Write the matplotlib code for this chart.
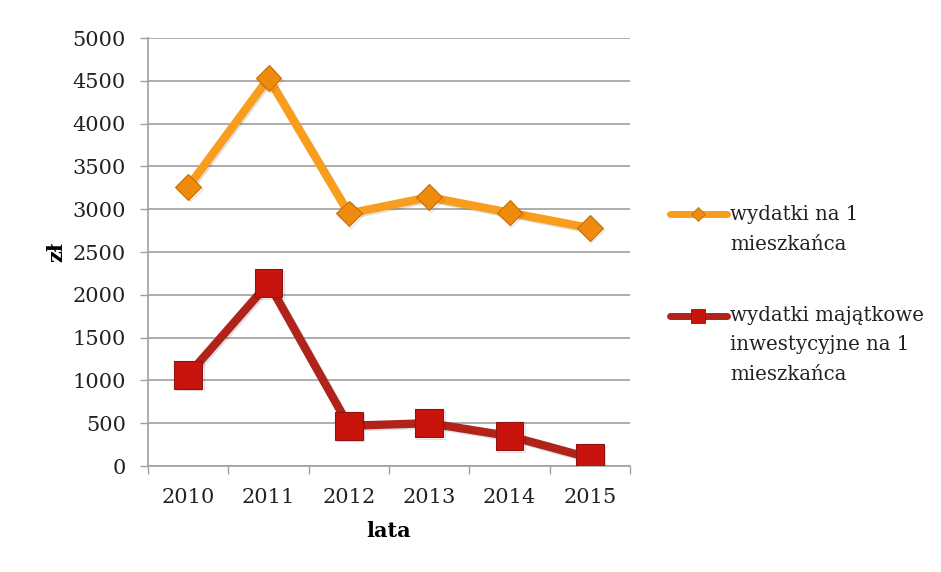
import matplotlib
matplotlib.use("Agg")
import matplotlib.pyplot as plt
import matplotlib.patheffects as pe
from matplotlib.lines import Line2D
import numpy as np

years = ["2010", "2011", "2012", "2013", "2014", "2015"]
wydatki = [3260, 4530, 2950, 3140, 2960, 2780]
wydatki_majatkowe = [1065, 2135, 470, 500, 350, 95]
y_ticks = [0, 500, 1000, 1500, 2000, 2500, 3000, 3500, 4000, 4500, 5000]

label_1 = "wydatki na 1\nmieszkańca"
label_2 = "wydatki majątkowe\ninwestycyjne na 1\nmieszkańca"

plt.rcParams['font.family'] = ['DejaVu Serif']

W, H = 941, 572
fig = plt.figure(figsize=(W / 100, H / 100), dpi=100)
ax = fig.add_axes([148 / W, 1 - 466 / H, (630 - 148) / W, (466 - 38) / H])

x = np.arange(len(years))
shadow = [pe.SimpleLineShadow(offset=(1.2, -1.2), shadow_color='#000000', alpha=0.12), pe.Normal()]

orange_line, orange_face, orange_edge = '#F99D1C', '#EE8A0C', '#C86F08'
red_line, red_face, red_edge = '#B0231B', '#C8140C', '#8E1410'

l1, = ax.plot(x, wydatki, color=orange_line, lw=6, marker='D', markersize=13,
              markerfacecolor=orange_face, markeredgecolor=orange_edge, markeredgewidth=0.8,
              solid_capstyle='round', zorder=3)
l1.set_path_effects(shadow)
l2, = ax.plot(x, wydatki_majatkowe, color=red_line, lw=6, marker='s', markersize=20,
              markerfacecolor=red_face, markeredgecolor=red_edge, markeredgewidth=0.8,
              solid_capstyle='round', zorder=3)
l2.set_path_effects(shadow)

ax.set_xlim(-0.5, len(years) - 0.5)
ax.set_ylim(0, 5000)
ax.set_yticks(y_ticks)
ax.set_yticklabels([str(v) for v in y_ticks], fontsize=15, color='#222222')
ax.set_xticks(x)
ax.set_xticklabels(years, fontsize=15, color='#222222')
ax.set_xticks(np.arange(len(years) + 1) - 0.5, minor=True)
ax.tick_params(axis='x', which='major', length=0, pad=16)
ax.tick_params(axis='x', which='minor', length=6, color='#a0a0a0', width=1)
ax.tick_params(axis='y', length=6, color='#a0a0a0', width=1, pad=10)

ax.grid(axis='y', color='#a0a0a0', lw=1.2)
ax.set_axisbelow(True)
for s in ['top', 'right']:
    ax.spines[s].set_visible(False)
for s in ['left', 'bottom']:
    ax.spines[s].set_color('#a0a0a0')
    ax.spines[s].set_linewidth(1.2)

ax.set_xlabel("lata", fontsize=15, fontweight='bold', labelpad=10)
ax.set_ylabel("zł", fontsize=15, fontweight='bold', labelpad=4)

# legend entries: handle aligned with first text line
def legend_entry(y_px, label, lc, fc, ec, mk, ms, line_px=29):
    yf = 1 - y_px / H
    fig.add_artist(Line2D([670 / W, 727 / W], [yf, yf], color=lc, lw=5,
                          solid_capstyle='round', transform=fig.transFigure))
    fig.add_artist(Line2D([698 / W], [yf], marker=mk, markersize=ms, markerfacecolor=fc,
                          markeredgecolor=ec, markeredgewidth=0.6, linestyle='none',
                          transform=fig.transFigure))
    for i, line in enumerate(label.split("\n")):
        fig.text(730 / W, 1 - (y_px + i * line_px) / H, line, fontsize=14.2,
                 color='#222222', va='center', ha='left')

legend_entry(214, label_1, orange_line, orange_face, orange_edge, 'D', 7.5, line_px=31)
legend_entry(316, label_2, red_line, red_face, red_edge, 's', 10, line_px=29)

fig.savefig("out.png", dpi=100, facecolor='white')
